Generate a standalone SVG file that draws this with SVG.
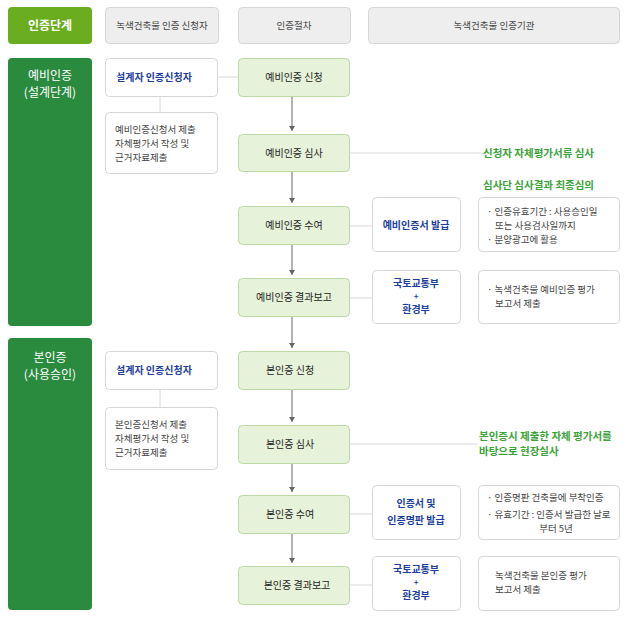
<svg xmlns="http://www.w3.org/2000/svg" width="629" height="617" viewBox="0 0 629 617">
<style>
text{font-family:"Noto Sans CJK KR","Noto Sans",sans-serif;font-size:9.5px;fill:#444}
.hd{fill:#eeeeee;stroke:#d6d6d6}
.w{fill:#fff;stroke:#d6d6d6}
.p{fill:#e6f2d9;stroke:#bcd8a4}
.b{fill:#1c3e9c;font-weight:bold;font-size:10px}
.pl{fill:#1c3e9c;font-weight:bold;font-size:8px}
.g{fill:#3ba33a;font-weight:bold;font-size:10.5px}
.k{fill:#222;font-size:10px}
.ln{stroke:#d8d8d8;stroke-width:1;fill:none}
.ar{stroke:#666;stroke-width:1;fill:none;marker-end:url(#a)}
</style>
<defs><marker id="a" markerWidth="8" markerHeight="8" refX="6" refY="4" orient="auto" markerUnits="userSpaceOnUse"><path d="M1,1 L6,4 L1,7 Z" fill="#666"/></marker></defs>
<g id="header">
<rect x="8" y="7" width="84" height="37" rx="4" fill="#6aae1f"/>
<text x="50" y="30" text-anchor="middle" style="fill:#fff;font-weight:bold;font-size:12px">인증단계</text>
<rect class="hd" x="105.5" y="7.5" width="113" height="36" rx="4"/>
<text x="162" y="29" text-anchor="middle">녹색건축물 인증 신청자</text>
<rect class="hd" x="238.5" y="7.5" width="112" height="36" rx="4"/>
<text x="294" y="29" text-anchor="middle">인증절차</text>
<rect class="hd" x="368.5" y="7.5" width="251" height="36" rx="4"/>
<text x="494" y="29" text-anchor="middle">녹색건축물 인증기관</text>
</g>
<g id="connectors">
<path class="ln" d="M218 77H238M160 97V112M160 389V407M350 153H483M350 226H372M350 298H372M350 444H477M350 514H372M350 585H372"/>
<path class="ar" d="M292 97V131"/><path class="ar" d="M292 172V203"/><path class="ar" d="M292 245V275"/><path class="ar" d="M292 317V348"/><path class="ar" d="M292 389V422"/><path class="ar" d="M292 463V492"/><path class="ar" d="M292 533V563"/>
</g>
<g id="sec1">
<rect x="8" y="58" width="84" height="268" rx="4" fill="#2a8a3e"/>
<text x="50" y="80" text-anchor="middle" style="fill:#fff;font-size:12px">예비인증</text>
<text x="50" y="97" text-anchor="middle" style="fill:#fff;font-size:12px">(설계단계)</text>
</g>
<g id="sec2">
<rect x="8" y="338" width="84" height="272" rx="4" fill="#2a8a3e"/>
<text x="50" y="362" text-anchor="middle" style="fill:#fff;font-size:12px">본인증</text>
<text x="50" y="379" text-anchor="middle" style="fill:#fff;font-size:12px">(사용승인)</text>
</g>
<g id="a1"><rect class="w" x="105.5" y="58.5" width="112" height="38" rx="4"/><text class="b" x="116" y="81">설계자 인증신청자</text></g>
<g id="a2"><rect class="w" x="105.5" y="112.5" width="112" height="61" rx="4"/>
<text x="115" y="133">예비인증신청서 제출</text><text x="115" y="147">자체평가서 작성 및</text><text x="115" y="161">근거자료제출</text></g>
<g id="p1"><rect class="p" x="238.5" y="58.5" width="111" height="38" rx="4"/><text class="k" x="294" y="81" text-anchor="middle">예비인증 신청</text></g>
<g id="p2"><rect class="p" x="238.5" y="134.5" width="111" height="37" rx="4"/><text class="k" x="294" y="157" text-anchor="middle">예비인증 심사</text></g>
<g id="p3"><rect class="p" x="238.5" y="206.5" width="111" height="38" rx="4"/><text class="k" x="294" y="229" text-anchor="middle">예비인증 수여</text></g>
<g id="p4"><rect class="p" x="238.5" y="278.5" width="111" height="38" rx="4"/><text class="k" x="294" y="301" text-anchor="middle">예비인증 결과보고</text></g>
<g id="t1"><text class="g" x="483" y="157">신청자 자체평가서류 심사</text><text class="g" x="483" y="189">심사단 심사결과 최종심의</text></g>
<g id="c1"><rect class="w" x="372.5" y="197.5" width="88" height="54" rx="4"/><text class="b" x="416" y="229" text-anchor="middle">예비인증서 발급</text></g>
<g id="d1"><rect class="w" x="478.5" y="197.5" width="141" height="54" rx="4"/>
<text x="487" y="215">· 인증유효기간 : 사용승인일</text><text x="495" y="229">또는 사용검사일까지</text><text x="487" y="243">· 분양광고에 활용</text></g>
<g id="c2"><rect class="w" x="372.5" y="270.5" width="88" height="53" rx="4"/>
<text class="b" x="416" y="287" text-anchor="middle">국토교통부</text><text class="pl" x="416" y="299" text-anchor="middle">+</text><text class="b" x="416" y="313" text-anchor="middle">환경부</text></g>
<g id="d2"><rect class="w" x="478.5" y="270.5" width="141" height="53" rx="4"/>
<text x="487" y="293">· 녹색건축물 예비인증 평가</text><text x="495" y="307">보고서 제출</text></g>
<g id="b1"><rect class="w" x="105.5" y="351.5" width="112" height="38" rx="4"/><text class="b" x="116" y="374">설계자 인증신청자</text></g>
<g id="b2"><rect class="w" x="105.5" y="407.5" width="112" height="62" rx="4"/>
<text x="115" y="428">본인증신청서 제출</text><text x="115" y="442">자체평가서 작성 및</text><text x="115" y="456">근거자료제출</text></g>
<g id="q1"><rect class="p" x="238.5" y="351.5" width="111" height="38" rx="4"/><text class="k" x="290" y="374" text-anchor="middle">본인증 신청</text></g>
<g id="q2"><rect class="p" x="238.5" y="425.5" width="111" height="38" rx="4"/><text class="k" x="290" y="448" text-anchor="middle">본인증 심사</text></g>
<g id="q3"><rect class="p" x="238.5" y="495.5" width="111" height="38" rx="4"/><text class="k" x="290" y="518" text-anchor="middle">본인증 수여</text></g>
<g id="q4"><rect class="p" x="238.5" y="566.5" width="111" height="38" rx="4"/><text class="k" x="297" y="589" text-anchor="middle">본인증 결과보고</text></g>
<g id="t2"><text class="g" x="479" y="440">본인증시 제출한 자체 평가서를</text><text class="g" x="479" y="455">바탕으로 현장실사</text></g>
<g id="c3"><rect class="w" x="372.5" y="485.5" width="88" height="54" rx="4"/>
<text class="b" x="416" y="507" text-anchor="middle">인증서 및</text><text class="b" x="416" y="524" text-anchor="middle">인증명판 발급</text></g>
<g id="d3"><rect class="w" x="478.5" y="485.5" width="141" height="54" rx="4"/>
<text x="487" y="501">· 인증명판 건축물에 부착인증</text><text x="487" y="518">· 유효기간 : 인증서 발급한 날로</text><text x="556" y="532" text-anchor="middle">부터 5년</text></g>
<g id="c4"><rect class="w" x="372.5" y="556.5" width="88" height="54" rx="4"/>
<text class="b" x="416" y="573" text-anchor="middle">국토교통부</text><text class="pl" x="416" y="585" text-anchor="middle">+</text><text class="b" x="416" y="599" text-anchor="middle">환경부</text></g>
<g id="d4"><rect class="w" x="478.5" y="556.5" width="141" height="54" rx="4"/>
<text x="495" y="579">녹색건축물 본인증 평가</text><text x="495" y="593">보고서 제출</text></g>
</svg>
